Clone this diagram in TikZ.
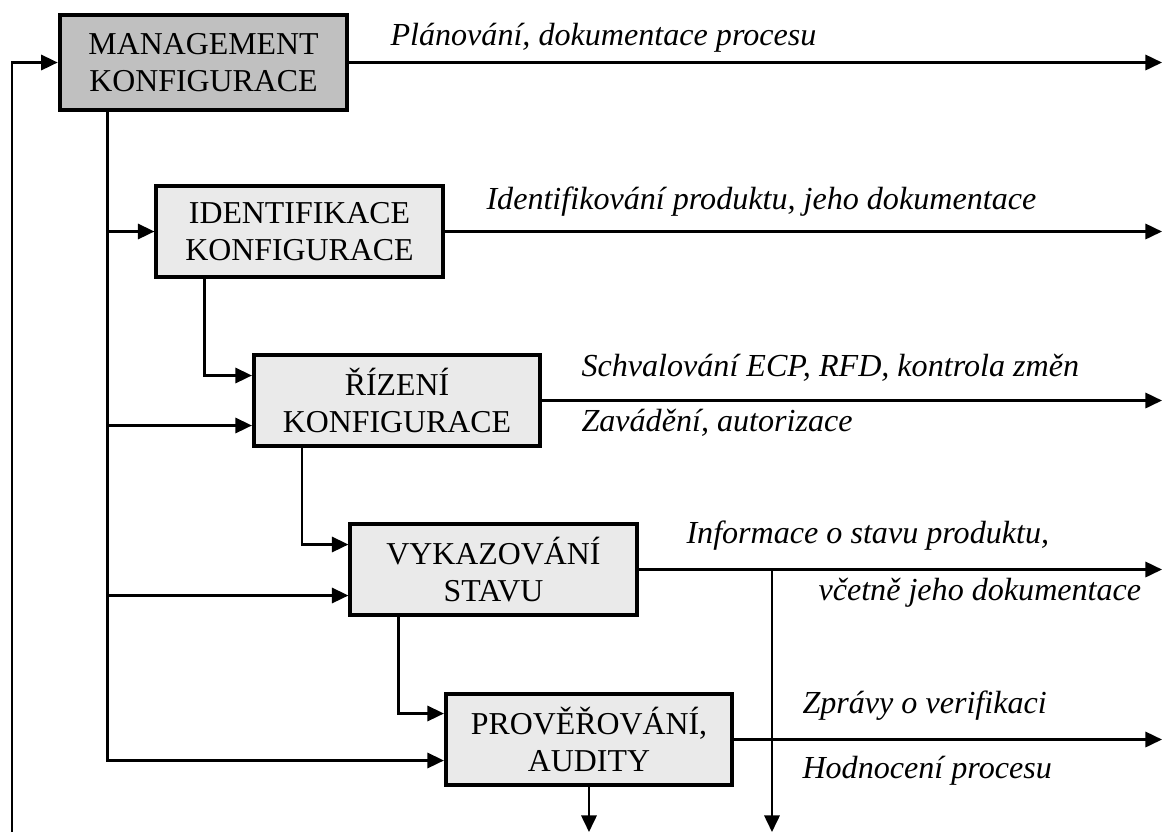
\documentclass[tikz,border=0pt,12pt]{standalone}
\usepackage{fontspec}
\setmainfont{Liberation Serif}
\usepackage{xcolor}
\usetikzlibrary{positioning,calc,arrows.meta}
\definecolor{tmava}{RGB}{192,192,192}
\definecolor{svetla}{RGB}{234,234,234}

\begin{document}
\begin{tikzpicture}[x=0.0138cm,y=-0.0138cm,
    blok/.style={draw,line width=1.5pt,fill=svetla,minimum width=3.95cm,minimum height=1.26cm,
        align=center,inner sep=2pt,font=\fontsize{12.5}{14.8}\selectfont},
    sipka/.style={line width=0.95pt,-{Triangle[length=6.5pt,width=6pt]}},
    popis/.style={anchor=base west,inner sep=0pt,font=\fontsize{12.6}{14}\selectfont\itshape}]
    \useasboundingbox (0,0) rectangle (1162,832);

    % Bloky
    \node[blok,fill=tmava,minimum width=3.97cm,minimum height=1.32cm] (mng) at (203.5,62.5) {MANAGEMENT\\KONFIGURACE};
    \node[blok] (ident) at (299.5,231.5) {IDENTIFIKACE\\KONFIGURACE};
    \node[blok] (rizeni) at (397,400.5) {ŘÍZENÍ\\KONFIGURACE};
    \node[blok] (vykaz) at (493.5,569.5) {VYKAZOVÁNÍ\\STAVU};
    \node[blok] (audit) at (589,739.5) {PROVĚŘOVÁNÍ,\\AUDITY};

    % Okraje obrazku
    \coordinate (okraj) at (1162,0);
    \coordinate (dno) at (0,832);
    \coordinate (zpet) at (12,832);
    \coordinate (odboc) at (772,832);

    % Vystupy doprava
    \foreach \b in {mng,ident,rizeni,vykaz,audit}
        \draw[sipka] (\b.east) -- (\b.east -| okraj);

    % Zpetna vazba
    \draw[sipka] (zpet) |- (mng.west);

    % Vstupy do bloku
    \coordinate (kmen) at ($(mng.south west)+(50,0)$);
    \coordinate (r1) at ($(rizeni.west)+(0,-25)$);
    \coordinate (r2) at ($(rizeni.west)+(0,25)$);
    \coordinate (v1) at ($(vykaz.west)+(0,-25)$);
    \coordinate (v2) at ($(vykaz.west)+(0,26)$);
    \coordinate (a1) at ($(audit.west)+(0,-26)$);
    \coordinate (a2) at ($(audit.west)+(0,21)$);

    \draw[sipka] (kmen) |- (a2);
    \draw[sipka] (kmen |- ident.west) -- (ident.west);
    \draw[sipka] (kmen |- r2) -- (r2);
    \draw[sipka] (kmen |- v2) -- (v2);

    \foreach \a/\c in {ident/r1,rizeni/v1,vykaz/a1}
        \draw[sipka] ($(\a.south west)+(50,0)$) |- (\c);

    % Vystupy dolu
    \draw[sipka] (audit.south) -- (audit.south |- dno);
    \draw[sipka] (odboc |- vykaz.east) -- (odboc);

    % Popisy
    \node[popis] (p1) at (390,45) {Plánování, dokumentace procesu};
    \node[popis] (p2) at (486,209) {Identifikování produktu, jeho dokumentace};
    \node[popis] (p3) at (581,376) {Schvalování ECP, RFD, kontrola změn};
    \node[popis] (p4) at (581,431) {Zavádění, autorizace};
    \node[popis] (p5) at (686,543) {Informace o stavu produktu,};
    \node[popis] (p6) at (818,600) {včetně jeho dokumentace};
    \node[popis] (p7) at (802,713) {Zprávy o verifikaci};
    \node[popis] (p8) at (802,778) {Hodnocení procesu};
\end{tikzpicture}
\end{document}
